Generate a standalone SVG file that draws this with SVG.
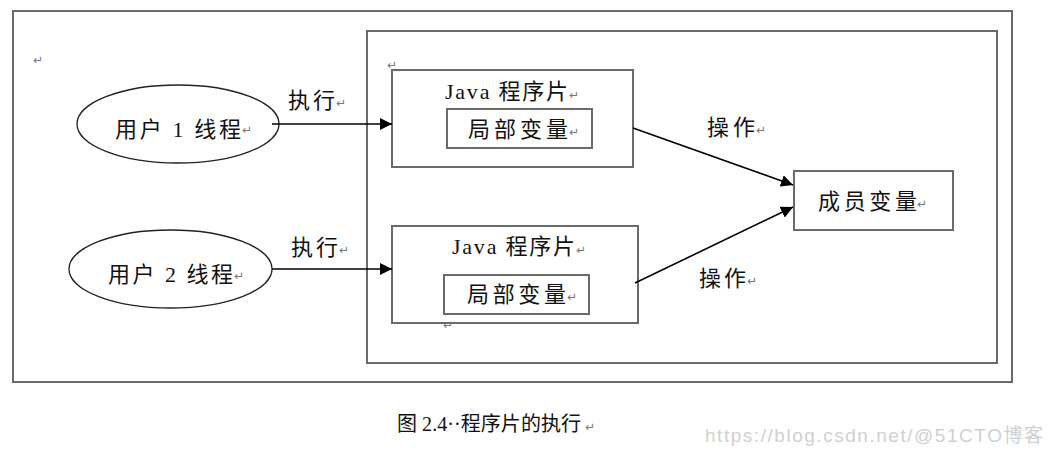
<svg xmlns="http://www.w3.org/2000/svg" width="1050" height="453" viewBox="0 0 1050 453">
<style>
.frame{fill:none;stroke:#6a6a6a;stroke-width:2}
.box{fill:#fff;stroke:#6a6a6a;stroke-width:2}
.ell{fill:#fff;stroke:#222;stroke-width:1.3}
.t{font-family:"Liberation Serif","Noto Sans CJK SC",serif;font-size:22px;fill:#111}
.cap{font-family:"Liberation Serif","Noto Sans CJK SC",serif;font-size:20px;fill:#111}
.pm{font-family:"DejaVu Sans",sans-serif;font-size:12px;fill:#777}
.wm{font-family:"Liberation Sans","Noto Sans CJK SC",sans-serif;font-size:19px;fill:#d0d0d0}
.conn{stroke:#000;stroke-width:1.6;fill:none}
</style>
<defs>
<marker id="ah" viewBox="0 0 12 12" refX="12" refY="6" markerWidth="12" markerHeight="12" markerUnits="userSpaceOnUse" orient="auto">
<path d="M0,0 L12,6 L0,12 z" fill="#000"/>
</marker>
</defs>
<rect fill="#fff" x="0" y="0" width="1050" height="453"/>
<rect class="frame" x="13" y="11" width="999" height="371"/>
<rect class="frame" x="367" y="31" width="630" height="332"/>
<text class="pm" x="33" y="64">↵</text>
<text class="pm" x="387" y="69">↵</text>
<g id="thread1">
<ellipse class="ell" cx="178" cy="124" rx="101" ry="39"/>
<text class="t" x="115" y="137" textLength="126" lengthAdjust="spacing">用户 1 线程</text>
<text class="pm" x="242" y="134">↵</text>
</g>
<g id="thread2">
<ellipse class="ell" cx="170.5" cy="269" rx="101.5" ry="39"/>
<text class="t" x="108" y="282" textLength="125" lengthAdjust="spacing">用户 2 线程</text>
<text class="pm" x="234" y="280">↵</text>
</g>
<g id="prog1">
<rect class="box" x="392" y="70" width="241" height="97"/>
<text class="t" x="445" y="99" textLength="123" lengthAdjust="spacing">Java 程序片</text>
<text class="pm" x="569" y="99">↵</text>
<g id="local1">
<rect class="box" x="447" y="109" width="145" height="39"/>
<text class="t" x="468" y="137" textLength="100" lengthAdjust="spacing">局部变量</text>
<text class="pm" x="569" y="136">↵</text>
</g>
</g>
<g id="prog2">
<rect class="box" x="392" y="226" width="246" height="97"/>
<text class="t" x="452" y="254" textLength="123" lengthAdjust="spacing">Java 程序片</text>
<text class="pm" x="576" y="254">↵</text>
<g id="local2">
<rect class="box" x="444" y="275" width="145" height="39"/>
<text class="t" x="467" y="302" textLength="99" lengthAdjust="spacing">局部变量</text>
<text class="pm" x="567" y="301">↵</text>
</g>
<text class="pm" x="443" y="329">↵</text>
</g>
<g id="member">
<rect class="box" x="794" y="171" width="159" height="59"/>
<text class="t" x="818" y="209" textLength="99" lengthAdjust="spacing">成员变量</text>
<text class="pm" x="917" y="208">↵</text>
</g>
<g id="connectors">
<line class="conn" x1="272" y1="124" x2="392" y2="124" marker-end="url(#ah)"/>
<line class="conn" x1="272" y1="269" x2="392" y2="269" marker-end="url(#ah)"/>
<line class="conn" x1="633" y1="128" x2="793" y2="185" marker-end="url(#ah)"/>
<line class="conn" x1="635" y1="283" x2="793" y2="207" marker-end="url(#ah)"/>
<text class="t" x="288" y="108" textLength="47" lengthAdjust="spacing">执行</text>
<text class="pm" x="336" y="107">↵</text>
<text class="t" x="291" y="255" textLength="47" lengthAdjust="spacing">执行</text>
<text class="pm" x="339" y="254">↵</text>
<text class="t" x="707" y="135" textLength="48" lengthAdjust="spacing">操作</text>
<text class="pm" x="756" y="134">↵</text>
<text class="t" x="699" y="286" textLength="47" lengthAdjust="spacing">操作</text>
<text class="pm" x="747" y="285">↵</text>
</g>
<text class="cap" x="397" y="431" textLength="184" lengthAdjust="spacing">图 2.4··程序片的执行</text>
<text class="pm" x="585" y="431">↵</text>
<text class="wm" x="705" y="442" textLength="338" lengthAdjust="spacing">https://blog.csdn.net/@51CTO博客</text>
</svg>
